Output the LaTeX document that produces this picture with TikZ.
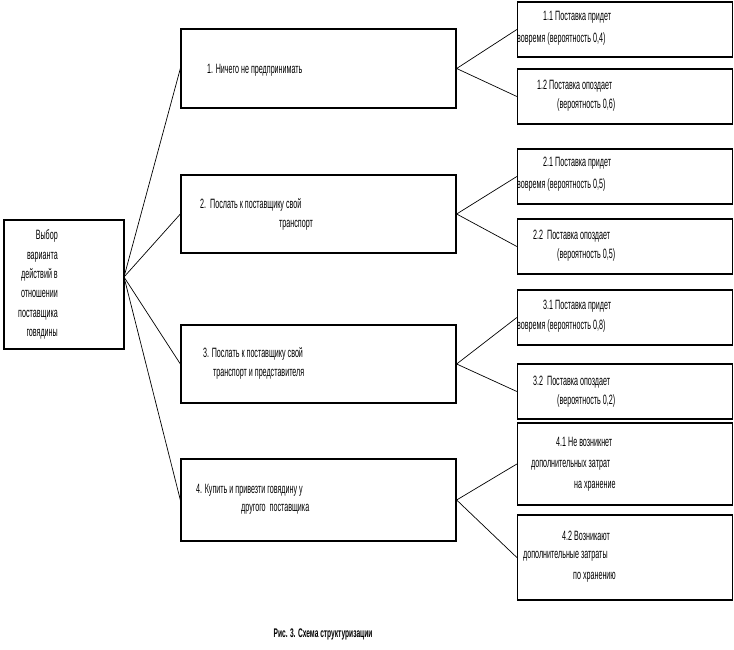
\documentclass[tikz,border=0pt]{standalone}
\usepackage{fontspec}
\setmainfont[FakeStretch=0.53]{Liberation Sans}
\usepackage{tikz}
\usetikzlibrary{positioning}
\definecolor{Ink}{HTML}{000000}
\tikzset{
  box/.style={draw=Ink,line width=1.3pt,fill=white,inner sep=0pt},
  rootbox/.style={box,minimum width=120pt,minimum height=129pt},
  actbox/.style={box,minimum width=275pt},
  outbox/.style={box,minimum width=215pt},
  txt/.style={anchor=west,inner sep=0pt,text=Ink,font=\fontsize{13.5}{15}\selectfont},
  link/.style={draw=Ink,line width=0.7pt}
}
\begin{document}
\begin{tikzpicture}[x=1pt,y=-1pt]
  \useasboundingbox (0,0) rectangle (734,650);

  % root and variants
  \node[rootbox] (root) at (64,284.5) {};
  \foreach \n/\y/\h in {act1/68.5/79,act2/214/78,act3/364/78,act4/500/82}{
    \node[actbox,minimum height=\h pt] (\n) at (318.5,\y) {};
  }
  % outcomes
  \foreach \n/\y/\h in {out11/29.5/55,out12/96.5/55,out21/176.5/55,out22/246.5/55,out31/317.5/55,out32/391.5/55,out41/464/82,out42/557.5/85}{
    \node[outbox,minimum height=\h pt] (\n) at (625,\y) {};
  }

  % connectors
  \coordinate (hub) at (124,277);
  \foreach \a in {act1,act2,act3,act4}{\draw[link] (hub) -- (\a.west);}
  \foreach \a/\b/\c in {act1/out11/out12,act2/out21/out22,act3/out31/out32,act4/out41/out42}{
    \draw[link] (\b.west) -- (\a.east) -- (\c.west);
  }

  % texts
  \node[txt,anchor=east,align=right,font=\fontsize{13.5}{19.4}\selectfont] (rootlbl) at (58,284.5)
    {Выбор\\варианта\\действий в\\отношении\\поставщика\\говядины};
  \foreach \x/\y/\t [count=\i] in {
    {207/70/1. Ничего не предпринимать},
    {200/205/2.\ \ Послать к поставщику свой},{279/225/транспорт},
    {203/354/3. Послать к поставщику свой},{213/374/транспорт и представителя},
    {196/490/4. Купить и привезти говядину у},{241/509/другого\ \ поставщика},
    {543/17/1.1 Поставка придет},{517/39/вовремя (вероятность 0,4)},
    {537/86/1.2 Поставка опоздает},{557/105/(вероятность 0,6)},
    {543/163/2.1 Поставка придет},{517/185/вовремя (вероятность 0,5)},
    {533/236/2.2\ \ Поставка опоздает},{557/255/(вероятность 0,5)},
    {543/306/3.1 Поставка придет},{517/326/вовремя (вероятность 0,8)},
    {533/382/3.2\ \ Поставка опоздает},{557/401/(вероятность 0,2)},
    {556/442/4.1 Не возникнет},{531/465/дополнительных затрат},{574/486/на хранение},
    {562/536/4.2 Возникают},{523/556/дополнительные затраты},{573/577/по хранению}}{
    \node[txt] (ln\i) at (\x,\y) {\t};
  }
  \node[txt,anchor=center,font=\bfseries\fontsize{12.5}{14}\selectfont] (caption) at (323,634) {Рис. 3. Схема структуризации};
\end{tikzpicture}
\end{document}
